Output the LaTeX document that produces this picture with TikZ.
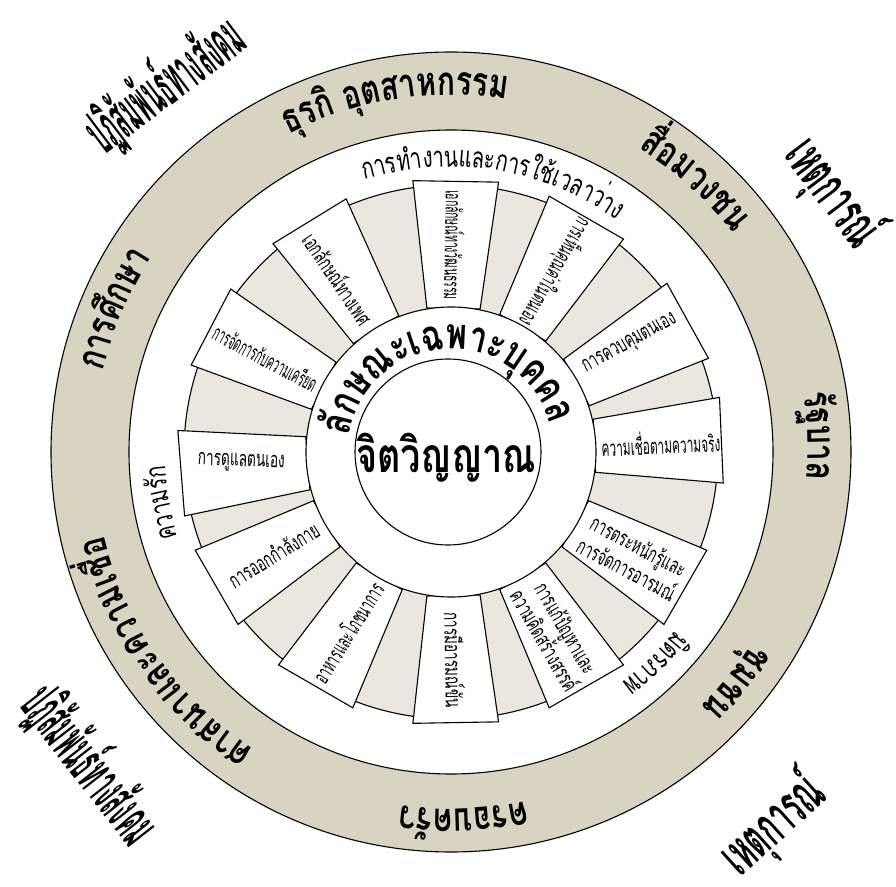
\documentclass[tikz,border=0pt]{standalone}
\usepackage{fontspec}
\usetikzlibrary{decorations.text}

\newfontfamily\thai[Script=Thai]{Loma}
\newfontfamily\thaicn[Script=Thai,FakeStretch=0.75]{Loma}
\newfontfamily\thairing[Script=Thai,FakeStretch=0.7]{Loma}
\newfontfamily\spokewide[Script=Thai,FakeStretch=0.62]{Loma}
\newfontfamily\spokemid[Script=Thai,FakeStretch=0.54]{Loma}
\newfontfamily\spokenarrow[Script=Thai,FakeStretch=0.47]{Loma}
\newfontfamily\thaievent[Script=Thai,FakeStretch=0.5]{Loma}
\newfontfamily\thaisocial[Script=Thai,FakeStretch=0.35]{Loma}

\definecolor{ringbeige}{RGB}{217,212,194}
\definecolor{spokebeige}{RGB}{234,232,222}

\newcommand\outerringfont{\thaicn\bfseries\fontsize{40}{40}\selectfont}
\newcommand\midringfont{\thairing\fontsize{29}{29}\selectfont}
\newcommand\selffont{\thaicn\bfseries\fontsize{43}{43}\selectfont}

\begin{document}
\begin{tikzpicture}[x=1pt,y=1pt,
    ringline/.style={draw=black, line width=1.1pt},
    spokebox/.style={draw=black, line width=1.1pt, fill=white},
    spokelabel/.style={font=\spokewide\fontsize{22}{25}\selectfont, align=center, inner sep=0pt},
    spokemidlabel/.style={spokelabel, font=\spokemid\fontsize{22}{25}\selectfont},
    spokeslimlabel/.style={spokelabel, font=\spokenarrow\fontsize{22}{25}\selectfont},
    eventlabel/.style={font=\thaievent\bfseries\fontsize{56}{56}\selectfont, inner sep=0pt},
    sociallabel/.style={font=\thaisocial\bfseries\fontsize{60}{60}\selectfont, inner sep=0pt}
]
\useasboundingbox (-451,-434) rectangle (445,452);

% outer ring
\fill[ringbeige] (0,0) circle[radius=400];
\fill[white] (0,0) circle[radius=322];
\draw[ringline] (0,0) circle[radius=400];
\draw[ringline] (0,0) circle[radius=322];

% spokes
\fill[spokebeige] (0,0) circle[radius=267];
\draw[ringline] (0,0) circle[radius=267];
\foreach \a in {2.5,29,60,89,121.5,152.5,184.5,210,240,271,300,330}
  \draw[spokebox] ({\a+10.5}:146) -- ({\a+9}:274) -- ({\a-9}:274) -- ({\a-10.5}:146) -- cycle;

\filldraw[ringline, fill=white] (0,0) circle[radius=145];
\draw[ringline] (-3,0) circle[radius=93];

% spoke labels
\node[spokemidlabel, rotate=2.5] (belief) at (2.5:210) {ความเชื่อตามความจริง};
\node[spokelabel, rotate=29] (control) at (31:209) {การควบคุมตนเอง};
\node[spokemidlabel, rotate=-120] (worth) at (60:208) {การเห็นคุณค่าในตนเอง};
\node[spokeslimlabel, rotate=-91] (culture) at (89:207) {เอกลักษณ์ทางวัฒนธรรม};
\node[spokelabel, rotate=-56] (gender) at (123:207) {เอกลักษณ์ทางเพศ};
\node[spokeslimlabel, rotate=-28] (stress) at (153:208) {การจัดการกับความเครียด};
\node[spokelabel, rotate=-2] (selfcare) at (183:210) {การดูแลตนเอง};
\node[spokelabel, rotate=32] (exercise) at (210:205) {การออกกำลังกาย};
\node[spokemidlabel, rotate=58] (nutrition) at (240:208) {อาหารและโภชนาการ};
\node[spokelabel, rotate=-89] (humor) at (271:208) {การมีอารมณ์ขัน};
\node[spokelabel, rotate=-60] (problem) at (300:210) {การแก้ปัญหาและ\\ความคิดสร้างสรรค์};
\node[spokelabel, rotate=-28] (emotion) at (330:210) {การตระหนักรู้และ\\การจัดการอารมณ์};

% centre
\node[font=\thaicn\bfseries\fontsize{48}{48}\selectfont] (spirit) at (-5,-6) {จิตวิญญาณ};
\path[decorate, decoration={text along path, text align=center,
  text={|\selffont|{ลั}{ก}{ษ}{ณ}{ะ}{เ}{ฉ}{พ}{า}{ะ}{บุ}{ค}{ค}{ล}}}]
  (200:103) arc[start angle=200, end angle=-13, radius=103];

% white ring labels
\path[decorate, decoration={text along path, text align=center,
  text={|\midringfont|{การ}{ทำ}{งาน}{และ}{การ}{ใช้}{เว}{ลา}{ว่าง}}}]
  (130:285) arc[start angle=130, end angle=32, radius=285];
\path[decorate, decoration={text along path, text align=center,
  text={|\midringfont|{ความ}{รัก}}}]
  (220:286) arc[start angle=220, end angle=160, radius=286];
\path[decorate, decoration={text along path, text align=center,
  text={|\midringfont|{มิ}{ตร}{ภาพ}}}]
  (-16:287) arc[start angle=-16, end angle=-76, radius=287];

% outer ring labels
\path[decorate, decoration={text along path, text align=center,
  text={|\outerringfont|{ธุ}{ร}{กิ} {อุ}{ต}{สา}{ห}{ก}{รร}{ม}}}]
  (130:357) arc[start angle=130, end angle=68, radius=357];
\path[decorate, decoration={text along path, text align=center,
  text={|\outerringfont|{สื่อ}{ม}{ว}{ง}{ช}{น}}}]
  (75:357) arc[start angle=75, end angle=21, radius=357];
\path[decorate, decoration={text along path, text align=center,
  text={|\outerringfont|{รั}{ฐ}{บา}{ล}}}]
  (30:357) arc[start angle=30, end angle=-25, radius=357];
\path[decorate, decoration={text along path, text align=center,
  text={|\outerringfont|{ชุ}{ม}{ช}{น}}}]
  (-10:357) arc[start angle=-10, end angle=-68, radius=357];
\path[decorate, decoration={text along path, text align=center,
  text={|\outerringfont|{ค}{ร}{อ}{บ}{ค}{รั}{ว}}}]
  (-55:357) arc[start angle=-55, end angle=-121, radius=357];
\path[decorate, decoration={text along path, text align=center,
  text={|\outerringfont|{ศา}{ส}{นา}{และ}{ความ}{เชื่อ}}}]
  (-105:357) arc[start angle=-105, end angle=-185, radius=357];
\path[decorate, decoration={text along path, text align=center,
  text={|\outerringfont|{การ}{ศึก}{ษา}}}]
  (190:357) arc[start angle=190, end angle=124, radius=357];

% corner labels
\node[sociallabel, rotate=37] (socialtop) at (-286,367) {ปฏิสัมพันธ์ทางสังคม};
\node[sociallabel, rotate=-52] (socialbottom) at (-361,-313) {ปฏิสัมพันธ์ทางสังคม};
\node[eventlabel, rotate=-53] (eventtop) at (382,259) {เหตุการณ์};
\node[eventlabel, rotate=42] (eventbottom) at (322,-373) {เหตุการณ์};
\end{tikzpicture}
\end{document}
